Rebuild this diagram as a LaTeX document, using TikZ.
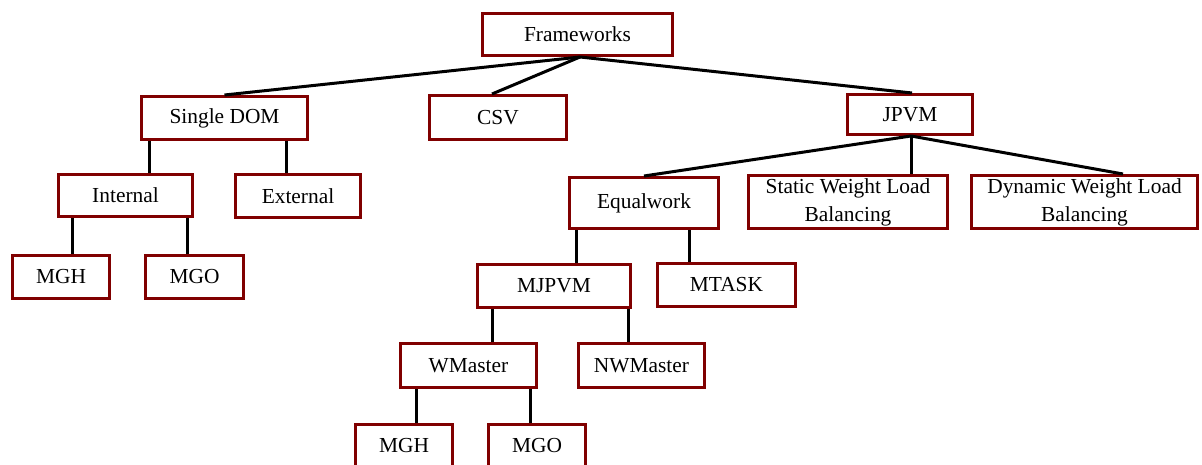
\documentclass[tikz,border=0pt]{standalone}
\usepackage{fontspec}
\setmainfont{Liberation Serif}
\usepackage{xcolor}
\usepackage{tikz}
\definecolor{boxred}{RGB}{128,0,0}

\begin{document}
\begin{tikzpicture}[
        x=1pt, y=-1pt,
        box/.style={rectangle, draw=boxred, line width=3pt, inner sep=0pt, minimum height=43pt, align=center, font=\fontsize{21.4}{28}\selectfont},
        link/.style={line width=3pt, black}
    ]
    \useasboundingbox (0,0) rectangle (1202,465);
%
    % Nodes
    \node[box, minimum width=190pt, minimum height=42pt] (fw) at (577.5,34.5) {Frameworks};
    \node[box, minimum width=166pt] (sdom) at (224.5,118) {Single DOM};
    \node[box, minimum width=137pt, minimum height=44pt] (csv) at (498,117.5) {CSV};
    \node[box, minimum width=125pt, minimum height=40pt] (jpvm) at (910,114.5) {JPVM};
%
    \node[box, minimum width=134pt, minimum height=42pt] (internal) at (125.5,195.5) {Internal};
    \node[box, minimum width=125pt] (external) at (298,196) {External};
    \node[box, minimum width=97pt] (mgha) at (61,277) {MGH};
    \node[box, minimum width=98pt] (mgoa) at (194.5,277) {MGO};
%
    \node[box, minimum width=149pt, minimum height=51pt] (equal) at (644,203) {Equalwork};
    \node[box, minimum width=199pt, minimum height=53pt] (static) at (848,202) {Static Weight Load\\Balancing};
    \node[box, minimum width=226pt, minimum height=53pt] (dynamic) at (1084.5,202) {Dynamic Weight Load\\Balancing};
%
    \node[box, minimum width=153pt] (mjpvm) at (554,286) {MJPVM};
    \node[box, minimum width=138pt] (mtask) at (726.5,285) {MTASK};
    \node[box, minimum width=136pt, minimum height=44pt] (wmaster) at (468.5,365.5) {WMaster};
    \node[box, minimum width=126pt, minimum height=44pt] (nwmaster) at (641.5,365.5) {NWMaster};
    \node[box, minimum width=97pt] (mghb) at (404,446) {MGH};
    \node[box, minimum width=97pt] (mgob) at (537,446) {MGO};
%
    % Lines
    \draw[link] ([xshift=2.5]fw.south) -- (sdom.north);
    \draw[link] ([xshift=2.5]fw.south) -- ([xshift=-6]csv.north);
    \draw[link] ([xshift=2.5]fw.south) -- ([xshift=2]jpvm.north);
%
    \draw[link] ([xshift=1]jpvm.south) -- (equal.north);
    \draw[link] ([xshift=1]jpvm.south) -- ([xshift=63]static.north);
    \draw[link] ([xshift=1]jpvm.south) -- ([xshift=38.5]dynamic.north);
%
    \draw[link] ([xshift=23.5]internal.north) -- ([xshift=23.5]internal.north |- sdom.south);
    \draw[link] ([xshift=-12]external.north) -- ([xshift=-12]external.north |- sdom.south);
    \draw[link] ([xshift=11]mgha.north) -- ([xshift=11]mgha.north |- internal.south);
    \draw[link] ([xshift=-7.5]mgoa.north) -- ([xshift=-7.5]mgoa.north |- internal.south);
%
    \draw[link] ([xshift=22]mjpvm.north) -- ([xshift=22]mjpvm.north |- equal.south);
    \draw[link] ([xshift=-37.5]mtask.north) -- ([xshift=-37.5]mtask.north |- equal.south);
    \draw[link] ([xshift=23.5]wmaster.north) -- ([xshift=23.5]wmaster.north |- mjpvm.south);
    \draw[link] ([xshift=-13.5]nwmaster.north) -- ([xshift=-13.5]nwmaster.north |- mjpvm.south);
    \draw[link] ([xshift=12]mghb.north) -- ([xshift=12]mghb.north |- wmaster.south);
    \draw[link] ([xshift=-7]mgob.north) -- ([xshift=-7]mgob.north |- wmaster.south);
%
\end{tikzpicture}
\end{document}
